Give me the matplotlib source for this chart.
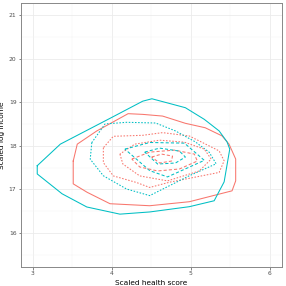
import numpy as np
import matplotlib
matplotlib.use("Agg")
import matplotlib.pyplot as plt

RED = "#F8766D"
CYAN = "#00BFC4"

# contour polygons (x = scaled health score, y = scaled log income)
red_l1_x = [3.514, 3.514, 3.690, 3.979, 4.481, 4.982, 5.522, 5.568, 5.568, 5.484, 5.396, 5.183, 4.932, 4.644, 4.393, 4.208, 3.812, 3.565, 3.514]
red_l1_y = [17.651, 17.128, 16.934, 16.672, 16.626, 16.718, 16.968, 17.196, 17.697, 18.039, 18.228, 18.415, 18.517, 18.683, 18.722, 18.738, 18.342, 18.039, 17.651]

cyan_l1_x = [3.059, 3.059, 3.373, 3.686, 4.104, 4.481, 4.982, 5.296, 5.422, 5.493, 5.459, 5.359, 5.171, 4.932, 4.509, 4.393, 3.979, 3.351, 3.059]
cyan_l1_y = [17.544, 17.355, 16.900, 16.597, 16.433, 16.483, 16.604, 16.740, 17.173, 17.925, 18.091, 18.342, 18.608, 18.875, 19.080, 19.025, 18.631, 18.039, 17.544]

red_l2_x = [3.895, 3.895, 4.021, 4.314, 4.481, 4.732, 5.359, 5.422, 5.359, 4.982, 4.644, 4.393, 4.021, 3.895]
red_l2_y = [17.956, 17.615, 17.310, 17.159, 17.045, 17.166, 17.390, 17.656, 17.884, 18.226, 18.303, 18.242, 18.219, 17.956]

cyan_l2_x = [3.749, 3.729, 3.895, 4.188, 4.481, 4.982, 5.321, 5.233, 5.058, 4.807, 4.556, 4.188, 3.916, 3.749]
cyan_l2_y = [18.075, 17.694, 17.313, 17.010, 16.858, 17.314, 17.588, 17.854, 18.091, 18.342, 18.524, 18.540, 18.502, 18.075]

red_l3_x = [4.104, 4.142, 4.355, 4.706, 5.108, 5.258, 5.171, 4.920, 4.606, 4.292, 4.104]
red_l3_y = [17.811, 17.583, 17.310, 17.196, 17.424, 17.697, 17.925, 18.084, 18.130, 18.039, 17.811]

cyan_l3_x = [4.167, 4.481, 4.920, 5.171, 4.706, 4.481, 4.167]
cyan_l3_y = [17.925, 18.077, 18.062, 17.667, 17.287, 17.431, 17.925]

red_l4_x = [4.255, 4.481, 4.794, 5.045, 5.083, 4.857, 4.581, 4.355, 4.255]
red_l4_y = [17.697, 17.856, 17.902, 17.811, 17.651, 17.469, 17.424, 17.515, 17.697]

cyan_l4_x = [4.418, 4.606, 4.857, 4.932, 4.807, 4.581, 4.418]
cyan_l4_y = [17.856, 17.948, 17.879, 17.743, 17.606, 17.583, 17.856]

red_l5_x = [4.506, 4.631, 4.769, 4.757, 4.606, 4.506]
red_l5_y = [17.743, 17.811, 17.765, 17.651, 17.606, 17.743]

contours = [
    (red_l1_x, red_l1_y, RED, "-"),
    (cyan_l1_x, cyan_l1_y, CYAN, "-"),
    (red_l2_x, red_l2_y, RED, (0, (1.5, 1.5))),
    (cyan_l2_x, cyan_l2_y, CYAN, (0, (1.5, 1.5))),
    (red_l3_x, red_l3_y, RED, (0, (1.5, 1.5))),
    (cyan_l3_x, cyan_l3_y, CYAN, (0, (3, 2))),
    (red_l4_x, red_l4_y, RED, (0, (3, 2))),
    (cyan_l4_x, cyan_l4_y, CYAN, (0, (3, 2))),
    (red_l5_x, red_l5_y, RED, (0, (3, 2))),
]

x_ticks = [3, 4, 5, 6]
y_ticks = [16, 17, 18, 19, 20, 21]

fig = plt.figure(figsize=(2.86, 2.86), dpi=100)
ax = fig.add_axes([0.0724, 0.0664, 0.9126, 0.922])

for xs, ys, col, ls in contours:
    ax.plot(xs, ys, color=col, lw=0.75, linestyle=ls)

ax.set_xlim(2.85, 6.15)
ax.set_ylim(15.22, 21.27)
ax.set_xticks(x_ticks)
ax.set_yticks(y_ticks)
ax.set_xticks([3.5, 4.5, 5.5], minor=True)
ax.set_yticks([15.5, 16.5, 17.5, 18.5, 19.5, 20.5], minor=True)
ax.set_xticklabels([str(v) for v in x_ticks])
ax.set_yticklabels([str(v) for v in y_ticks])
ax.grid(which="major", color="#EBEBEB", lw=0.6)
ax.grid(which="minor", color="#F3F3F3", lw=0.35)
ax.set_axisbelow(True)
ax.tick_params(which="major", length=1.8, width=0.5, color="#555555", labelsize=4.3,
               labelcolor="#4D4D4D", pad=1.2)
ax.tick_params(which="minor", length=0)
for sp in ax.spines.values():
    sp.set_color("#888888")
    sp.set_linewidth(0.7)
ax.set_xlabel("Scaled health score", fontsize=5.3, labelpad=2.5)
ax.set_ylabel("Scaled log income", fontsize=5.3, labelpad=3)

fig.savefig("out.png", dpi=100)
